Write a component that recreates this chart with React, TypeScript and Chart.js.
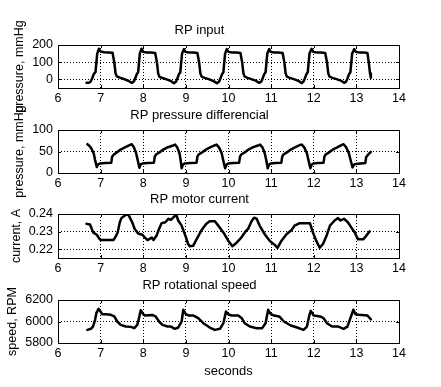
import React, { useEffect, useRef } from "react";
import { Chart, registerables } from "chart.js";

Chart.register(...registerables);

const FONT = "'Liberation Sans', Arial, Helvetica, sans-serif";

// ---------- data ----------
const xTicks = [6, 7, 8, 9, 10, 11, 12, 13, 14];

const inputTicks = [0, 100, 200];
const inputX = [
  6.67, 6.72, 6.76, 6.80, 6.84, 6.88, 6.92, 6.96, 7.00, 7.08, 7.18, 7.28, 7.32, 7.35, 7.38, 7.45, 7.55, 7.65, 7.73,
  7.78, 7.81, 7.85, 7.88, 7.92, 7.96, 8.00, 8.08, 8.18, 8.28, 8.32, 8.35, 8.38, 8.45, 8.55, 8.65, 8.72,
  8.77, 8.80, 8.84, 8.87, 8.91, 8.955, 8.99, 9.07, 9.17, 9.27, 9.31, 9.34, 9.37, 9.44, 9.55, 9.65, 9.73,
  9.78, 9.81, 9.85, 9.88, 9.92, 9.96, 10.00, 10.08, 10.18, 10.28, 10.32, 10.35, 10.38, 10.45, 10.55, 10.65, 10.72,
  10.77, 10.80, 10.84, 10.87, 10.91, 10.955, 10.99, 11.07, 11.17, 11.27, 11.31, 11.34, 11.37, 11.44, 11.55, 11.65, 11.72,
  11.76, 11.79, 11.83, 11.86, 11.90, 11.95, 11.99, 12.07, 12.17, 12.27, 12.31, 12.34, 12.37, 12.44, 12.55, 12.65, 12.72,
  12.76, 12.79, 12.83, 12.86, 12.90, 12.95, 12.99, 13.07, 13.17, 13.26, 13.29, 13.32, 13.34,
];
const inputY = [
  -20, -20, -15, 5, 32, 42, 150, 178, 162, 158, 157, 155, 100, 35, 18, 10, 2, -8, -20,
  -12, 5, 32, 42, 150, 178, 160, 157, 156, 154, 100, 35, 15, 8, 0, -10, -22,
  -12, 5, 32, 42, 150, 176, 160, 157, 156, 154, 100, 35, 16, 9, 0, -10, -22,
  -12, 5, 32, 42, 150, 176, 160, 157, 156, 154, 100, 35, 16, 9, 0, -9, -20,
  -12, 5, 32, 42, 150, 177, 160, 157, 156, 154, 100, 35, 16, 9, 0, -10, -22,
  -12, 5, 32, 42, 150, 178, 160, 157, 156, 154, 100, 35, 16, 9, 0, -9, -20,
  -12, 5, 32, 42, 150, 176, 160, 157, 156, 153, 100, 35, 10,
];

const diffTicks = [0, 50, 100];
const diffX = [
  6.69, 6.74, 6.79, 6.84, 6.87, 6.91,
  6.94, 6.98, 7.10, 7.25, 7.27, 7.30, 7.38, 7.48, 7.58, 7.68, 7.73, 7.78, 7.83, 7.87, 7.91,
  7.94, 7.98, 8.10, 8.25, 8.27, 8.30, 8.38, 8.48, 8.58, 8.70, 8.75, 8.80, 8.85, 8.88, 8.90,
  8.93, 8.97, 9.10, 9.25, 9.27, 9.30, 9.38, 9.48, 9.58, 9.67, 9.72, 9.78, 9.84, 9.88, 9.92,
  9.95, 9.99, 10.10, 10.25, 10.27, 10.30, 10.38, 10.48, 10.58, 10.69, 10.74, 10.80, 10.85, 10.89, 10.92,
  10.95, 10.99, 11.10, 11.24, 11.26, 11.29, 11.37, 11.47, 11.57, 11.67, 11.72, 11.78, 11.84, 11.88, 11.92,
  11.95, 11.99, 12.10, 12.23, 12.25, 12.28, 12.36, 12.46, 12.56, 12.65, 12.70, 12.76, 12.82, 12.87, 12.91,
  12.94, 12.98, 13.10, 13.21, 13.23, 13.27, 13.31, 13.34,
];
const diffY = [
  67, 63, 56, 45, 30, 14,
  20, 22, 23, 24, 38, 42, 48, 55, 60, 65, 67, 60, 47, 30, 12,
  20, 22, 23, 24, 38, 43, 48, 55, 60, 64, 66, 59, 46, 28, 11,
  19, 22, 23, 24, 38, 43, 48, 55, 60, 64, 66, 59, 46, 28, 11,
  19, 22, 23, 24, 38, 43, 48, 55, 60, 64, 66, 59, 46, 28, 11,
  19, 22, 23, 24, 38, 43, 48, 55, 60, 65, 66, 59, 46, 28, 11,
  19, 22, 23, 24, 38, 43, 48, 55, 60, 65, 67, 60, 47, 28, 13,
  19, 21, 22, 23, 37, 42, 46, 49,
];

const currentTicks = [0.22, 0.23, 0.24];
const currentX = [
  6.67, 6.75, 6.83, 6.91, 6.98, 7.02, 7.30, 7.34, 7.40, 7.45, 7.49, 7.61, 7.66, 7.74, 7.80, 7.88, 7.98,
  8.04, 8.10, 8.20, 8.24, 8.31, 8.37, 8.43, 8.52, 8.59, 8.65, 8.73, 8.78, 8.82, 8.90, 8.99,
  9.05, 9.09, 9.17, 9.25, 9.37, 9.48, 9.56, 9.68, 9.76, 9.88, 9.99,
  10.09, 10.19, 10.30, 10.40, 10.46, 10.54, 10.60, 10.66, 10.73, 10.85, 10.97,
  11.09, 11.15, 11.24, 11.36, 11.48, 11.55, 11.67, 11.91, 11.98,
  12.06, 12.14, 12.22, 12.30, 12.38, 12.49, 12.57, 12.63, 12.71, 12.80, 12.88, 12.96,
  13.04, 13.16, 13.23, 13.31,
];
const currentY = [
  0.2344, 0.2340, 0.2294, 0.2282, 0.2256, 0.2252, 0.2252, 0.2266, 0.2295, 0.2353, 0.2377, 0.2398, 0.2392, 0.2353, 0.2315, 0.2289, 0.2282,
  0.2266, 0.2252, 0.2266, 0.2252, 0.2276, 0.2315, 0.2348, 0.2353, 0.2373, 0.2367, 0.2386, 0.2392, 0.2363, 0.2334, 0.2276,
  0.2231, 0.2217, 0.2219, 0.2256, 0.2309, 0.2344, 0.2359, 0.2359, 0.2334, 0.2295, 0.2250,
  0.2217, 0.2237, 0.2266, 0.2301, 0.2315, 0.2359, 0.2379, 0.2373, 0.2334, 0.2285, 0.2247,
  0.2223, 0.2208, 0.2247, 0.2285, 0.2309, 0.2334, 0.2348, 0.2348, 0.2295,
  0.2247, 0.2208, 0.2231, 0.2276, 0.2334, 0.2363, 0.2377, 0.2363, 0.2373, 0.2353, 0.2324, 0.2295,
  0.2256, 0.2256, 0.2276, 0.2301,
];

const speedTicks = [5800, 6000, 6200];
const speedX = [
  6.69, 6.77, 6.82, 6.87, 6.90, 6.95, 7.00, 7.04, 7.12, 7.24, 7.32, 7.39, 7.47, 7.59, 7.71, 7.79,
  7.86, 7.90, 7.94, 8.00, 8.04, 8.22, 8.29, 8.37, 8.45, 8.57, 8.65, 8.74,
  8.82, 8.90, 8.94, 9.00, 9.06, 9.17, 9.29, 9.41, 9.56, 9.68,
  9.80, 9.88, 9.94, 9.99, 10.07, 10.23, 10.31, 10.38, 10.50, 10.66,
  10.79, 10.87, 10.93, 10.99, 11.07, 11.19, 11.30, 11.46, 11.61, 11.76,
  11.84, 11.90, 11.93, 12.00, 12.15, 12.23, 12.31, 12.43, 12.58, 12.70,
  12.79, 12.86, 12.93, 12.98, 13.06, 13.26, 13.34,
];
const speedY = [
  5922, 5932, 5953, 6016, 6078, 6118, 6090, 6068, 6068, 6062, 6047, 6000, 5969, 5953, 5950, 5938,
  5969, 6031, 6105, 6068, 6056, 6060, 6047, 6000, 5969, 5953, 5953, 5932,
  5944, 6000, 6109, 6068, 6056, 6056, 6031, 5984, 5944, 5922,
  5932, 5984, 6093, 6068, 6056, 6056, 6031, 5984, 5953, 5938,
  5938, 5984, 6109, 6068, 6056, 6047, 6000, 5963, 5944, 5922,
  5953, 6062, 6099, 6056, 6047, 6031, 5984, 5953, 5953, 5932,
  5953, 6031, 6109, 6068, 6062, 6056, 6020,
];

// ---------- layout ----------
type Panel = {
  title: string;
  yLabel: string;
  xs: number[];
  ys: number[];
  yMin: number;
  yMax: number;
  yTicks: number[];
  top: number;
  bottom: number;
  labelPad: number;
  xTitle?: string;
};

const panels: Panel[] = [
  { title: "RP input", yLabel: "pressure, mmHg", xs: inputX, ys: inputY, yMin: -50, yMax: 200, yTicks: inputTicks, top: 45, bottom: 88, labelPad: 12 },
  { title: "RP pressure differencial", yLabel: "pressure, mmHg", xs: diffX, ys: diffY, yMin: 0, yMax: 100, yTicks: diffTicks, top: 130, bottom: 173, labelPad: 12 },
  { title: "RP motor current", yLabel: "current, A", xs: currentX, ys: currentY, yMin: 0.215, yMax: 0.24, yTicks: currentTicks, top: 214, bottom: 258, labelPad: 9 },
  { title: "RP rotational speed", yLabel: "speed, RPM", xs: speedX, ys: speedY, yMin: 5800, yMax: 6200, yTicks: speedTicks, top: 300, bottom: 343, labelPad: 5, xTitle: "seconds" },
];

const W = 441;
const LEFT = 58;
const RIGHT = 399;
const TOP_SPACE = 40;

const boxPlugin = {
  id: "matlabBox",
  beforeDatasetsDraw(chart: any) {
    const { ctx, chartArea } = chart;
    const l = Math.round(chartArea.left);
    const t = Math.round(chartArea.top);
    const r = Math.round(chartArea.right);
    const b = Math.round(chartArea.bottom);
    ctx.save();
    ctx.strokeStyle = "#000";
    ctx.lineWidth = 1;
    ctx.setLineDash([]);
    ctx.strokeRect(l + 0.5, t + 0.5, r - l, b - t);
    const tl = 3;
    ctx.beginPath();
    const xs = chart.scales.x;
    for (const tk of xs.ticks) {
      const px = Math.round(xs.getPixelForValue(tk.value)) + 0.5;
      ctx.moveTo(px, b);
      ctx.lineTo(px, b - tl);
      ctx.moveTo(px, t);
      ctx.lineTo(px, t + tl);
    }
    const ys = chart.scales.y;
    for (const tk of ys.ticks) {
      const py = Math.round(ys.getPixelForValue(tk.value)) + 0.5;
      ctx.moveTo(l, py);
      ctx.lineTo(l + tl, py);
      ctx.moveTo(r, py);
      ctx.lineTo(r - tl, py);
    }
    ctx.stroke();
    ctx.restore();
  },
};

function PanelChart({ p }: { p: Panel }) {
  const ref = useRef<HTMLCanvasElement>(null);
  const bottomSpace = p.xTitle ? 44 : 30;
  const canvasTop = p.top - TOP_SPACE;
  const canvasH = TOP_SPACE + (p.bottom - p.top) + bottomSpace;

  useEffect(() => {
    if (!ref.current) return;
    const titleSize = 13;
    const titlePadBottom = 7.2;
    const padTop = TOP_SPACE - (titleSize * 1.2 + titlePadBottom);
    const gridOpts = { color: "#000", lineWidth: 1, drawTicks: false };
    const borderOpts = { display: false, dash: [1, 2] };
    const plain = (v: any) => String(v);
    const chart = new Chart(ref.current, {
      type: "line",
      data: {
        datasets: [
          {
            data: p.xs.map((x, i) => ({ x, y: p.ys[i] })),
            borderColor: "#000",
            borderWidth: 2.5,
            pointRadius: 0,
            tension: 0,
            fill: false,
            borderJoinStyle: "round",
            borderCapStyle: "round",
          },
        ],
      },
      options: {
        animation: false,
        responsive: false,
        devicePixelRatio: 1,
        events: [],
        layout: { padding: { top: padTop, left: 0, right: W - RIGHT, bottom: 0 } },
        plugins: {
          legend: { display: false },
          tooltip: { enabled: false },
          title: {
            display: true,
            text: p.title,
            color: "#000",
            font: { family: FONT, size: titleSize, weight: "normal", lineHeight: 1.2 },
            padding: { top: 0, bottom: titlePadBottom },
          },
        },
        scales: {
          x: {
            type: "linear",
            min: 6,
            max: 14,
            afterBuildTicks: (s: any) => {
              s.ticks = xTicks.map((v) => ({ value: v }));
            },
            afterFit: (s: any) => {
              s.height = bottomSpace;
            },
            grid: gridOpts,
            border: borderOpts,
            ticks: {
              color: "#000",
              font: { family: FONT, size: 12.5 },
              padding: 3.5,
              maxRotation: 0,
              autoSkip: false,
              callback: plain,
            },
            title: p.xTitle
              ? {
                  display: true,
                  text: p.xTitle,
                  color: "#000",
                  font: { family: FONT, size: 13, lineHeight: 1.2 },
                  padding: { top: 0, bottom: 8.2 },
                }
              : { display: false },
          },
          y: {
            type: "linear",
            min: p.yMin,
            max: p.yMax,
            afterBuildTicks: (s: any) => {
              s.ticks = p.yTicks.map((v) => ({ value: v }));
            },
            afterFit: (s: any) => {
              s.width = LEFT;
            },
            grid: gridOpts,
            border: borderOpts,
            ticks: {
              color: "#000",
              font: { family: FONT, size: 12.5 },
              padding: 5,
              autoSkip: false,
              callback: plain,
            },
            title: {
              display: true,
              text: p.yLabel,
              color: "#000",
              font: { family: FONT, size: 12.5, lineHeight: 1.2 },
              padding: { top: p.labelPad, bottom: 0 },
            },
          },
        },
      } as any,
      plugins: [boxPlugin],
    });
    return () => chart.destroy();
  }, [p]);

  return (
    <canvas
      ref={ref}
      width={W}
      height={canvasH}
      style={{ position: "absolute", left: 0, top: canvasTop, width: W, height: canvasH }}
    />
  );
}

export default function App() {
  return (
    <div
      style={{
        position: "absolute",
        left: 0,
        top: 0,
        width: W,
        height: 387,
        background: "#fff",
        overflow: "hidden",
      }}
    >
      {panels.map((p, i) => (
        <PanelChart key={i} p={p} />
      ))}
    </div>
  );
}
